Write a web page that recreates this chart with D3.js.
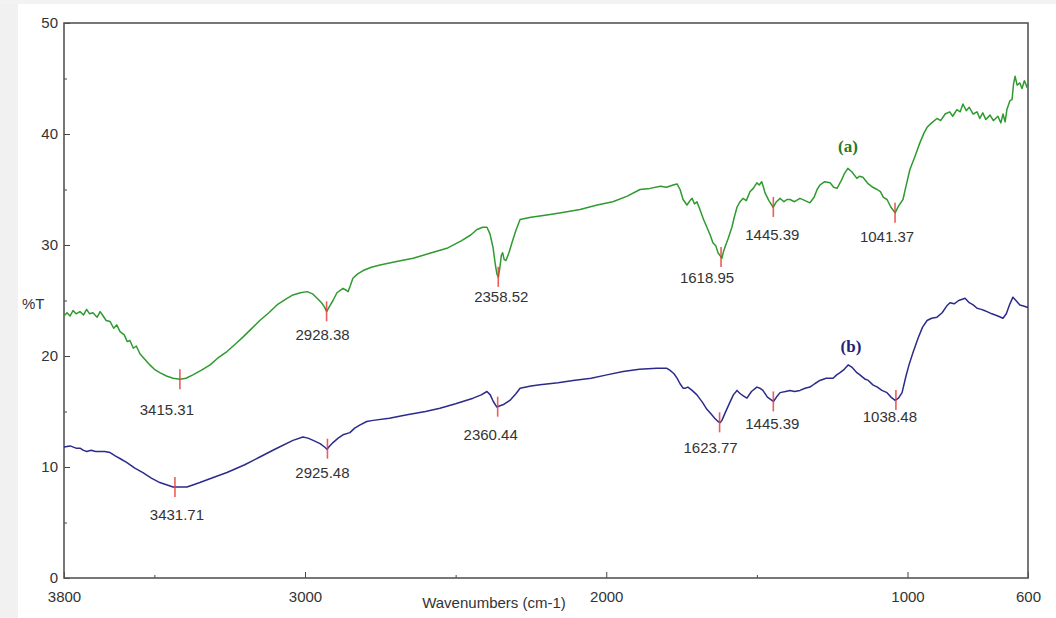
<!DOCTYPE html>
<head>
<meta charset="utf-8">
<title>FTIR spectra</title>
<style>
body {
  margin: 0;
  background: #fff;
  font-family: "Liberation Sans", Arial, sans-serif;
}
.axis text {
  font-family: "Liberation Sans", Arial, sans-serif;
  font-size: 15px;
  fill: #333;
}
.axis line {
  stroke: #444;
}
.peak {
  font-family: "Liberation Sans", Arial, sans-serif;
  font-size: 15px;
  fill: #333;
  text-anchor: middle;
}
</style>
<script src="https://cdnjs.cloudflare.com/ajax/libs/d3/7.8.5/d3.min.js"></script>
</head>

<body>

<script>
// spectrum (a) - wavenumber / %T
var waveA = [3800,3790,3780,3770,3760,3747,3735,3725,3715,3704,3690,3680,3670,3660,3647,3635,3625,3614,3600,3590,3581,3570,3560,3548,3535,3515,3500,3482,3460,3438,3415,3395,3372,3345,3315,3290,3259,3230,3206,3180,3150,3120,3093,3065,3040,3015,2993,2975,2960,2945,2935,2928,2920,2907,2894,2874,2862,2857,2850,2841,2825,2807,2780,2751,2700,2641,2580,2529,2480,2450,2429,2410,2396,2386,2376,2368,2363,2358,2353,2348,2344,2339,2333,2323,2313,2300,2286,2250,2197,2150,2087,2030,1978,1930,1888,1855,1820,1800,1778,1765,1755,1745,1732,1722,1715,1707,1699,1689,1677,1666,1655,1646,1636,1629,1621,1616,1611,1606,1595,1583,1575,1566,1556,1546,1535,1523,1512,1500,1492,1484,1478,1473,1460,1446,1435,1423,1410,1400,1390,1375,1357,1340,1324,1310,1300,1291,1275,1257,1245,1234,1220,1210,1198,1185,1168,1160,1148,1130,1115,1101,1090,1080,1068,1055,1041,1030,1015,1005,992,975,959,945,935,920,902,890,875,860,850,836,825,816,805,795,782,769,760,750,740,726,715,700,690,683,676,670,660,653,648,643,636,627,620,612,603,600];
var transA = [23.6,23.9,23.6,24.1,23.8,24.0,23.7,24.2,23.8,23.9,23.5,24.0,23.6,23.2,23.1,22.5,22.8,22.2,21.9,21.3,21.4,20.7,20.9,20.2,19.8,19.2,18.8,18.5,18.2,18.0,17.9,18.0,18.3,18.7,19.2,19.8,20.4,21.1,21.7,22.4,23.2,23.9,24.6,25.1,25.5,25.7,25.8,25.6,25.2,24.8,24.4,24.0,24.4,25.0,25.7,26.1,25.9,25.8,26.3,27.0,27.4,27.7,28.0,28.2,28.5,28.8,29.3,29.7,30.4,30.9,31.4,31.6,31.6,31.0,29.8,28.2,27.4,27.1,28.0,29.1,29.3,28.7,28.6,29.3,30.2,31.3,32.3,32.5,32.7,32.9,33.2,33.6,33.9,34.4,35.0,35.1,35.3,35.2,35.4,35.5,35.0,34.1,33.6,34.0,34.2,33.7,33.9,33.2,32.3,31.6,30.9,30.2,29.9,29.3,29.0,28.8,29.4,29.8,30.6,31.6,32.5,33.4,33.9,34.2,34.0,34.8,35.1,35.6,35.4,35.7,35.2,34.7,34.0,33.4,33.9,34.2,33.9,34.1,34.1,33.9,34.2,34.0,33.8,34.3,35.0,35.4,35.7,35.6,35.2,35.1,35.8,36.4,36.9,36.6,36.0,36.2,36.1,35.5,35.2,35.0,34.8,34.3,34.1,33.4,32.9,33.5,34.1,35.3,36.8,38.0,39.2,40.1,40.6,41.0,41.4,41.2,41.8,42.0,41.6,42.2,42.0,42.7,42.1,42.4,41.8,42.0,41.4,41.9,41.3,41.7,41.2,41.6,41.0,41.8,41.1,42.2,43.0,43.1,44.5,45.2,44.4,44.6,44.1,44.8,44.2,44.5];

// spectrum (b)
var waveB = [3800,3780,3760,3747,3735,3724,3710,3695,3681,3665,3647,3630,3610,3591,3565,3538,3510,3482,3460,3438,3415,3392,3370,3349,3300,3259,3200,3150,3100,3040,3007,2990,2973,2950,2935,2927,2918,2907,2890,2874,2851,2835,2817,2795,2774,2720,2661,2600,2552,2500,2442,2415,2396,2385,2375,2363,2355,2343,2320,2300,2286,2250,2220,2160,2110,2050,1998,1944,1890,1832,1800,1788,1775,1765,1755,1745,1737,1729,1715,1699,1680,1666,1656,1640,1629,1622,1616,1605,1590,1578,1566,1555,1545,1533,1518,1500,1490,1480,1465,1450,1445,1435,1423,1405,1390,1375,1357,1340,1324,1308,1291,1270,1247,1235,1224,1210,1197,1185,1168,1158,1140,1130,1115,1100,1085,1068,1055,1041,1030,1018,1005,995,982,965,950,935,920,902,885,870,859,845,830,809,795,782,769,755,745,736,720,700,683,672,660,650,640,627,615,603,600];
var transB = [11.8,11.9,11.7,11.7,11.5,11.4,11.5,11.4,11.4,11.4,11.3,11.0,10.7,10.4,9.9,9.5,9.0,8.6,8.4,8.2,8.2,8.2,8.4,8.6,9.1,9.5,10.2,10.9,11.6,12.4,12.7,12.6,12.4,12.1,11.8,11.6,11.9,12.2,12.6,12.9,13.1,13.5,13.8,14.1,14.2,14.4,14.7,15.0,15.3,15.7,16.2,16.5,16.8,16.5,15.9,15.4,15.5,15.6,16.0,16.6,17.1,17.3,17.4,17.6,17.8,18.0,18.3,18.6,18.8,18.9,18.9,18.7,18.4,18.0,17.5,17.1,17.1,17.2,16.9,16.5,15.8,15.2,14.9,14.4,14.1,14.0,14.2,14.9,15.8,16.5,16.9,16.6,16.4,16.2,16.8,17.2,17.1,16.9,16.3,16.0,15.9,16.3,16.7,16.8,16.9,16.8,16.9,17.1,17.2,17.5,17.8,18.0,18.0,18.3,18.5,18.8,19.2,19.0,18.5,18.3,17.9,17.8,17.4,17.2,16.9,16.7,16.3,16.0,16.2,16.7,18.2,19.2,20.3,21.6,22.6,23.2,23.4,23.5,23.9,24.5,24.8,24.7,25.0,25.2,24.8,24.6,24.3,24.2,24.1,24.0,23.8,23.6,23.4,23.8,24.7,25.3,25.0,24.6,24.5,24.4,24.4];

// marked peaks
var peaksA = [3415.31, 2928.38, 2358.52, 1618.95, 1445.39, 1041.37];
var peaksB = [3431.71, 2925.48, 2360.44, 1623.77, 1445.39, 1038.48];

// axis ticks
var xTicks = [3800, 3000, 2000, 1000, 600];
var xMinor = [3500, 2500, 1500];
var yTicks = [0, 10, 20, 30, 40, 50];
var yMinor = [5, 15, 25, 35, 45];

// label nudges (layout only) [dx, dy below the curve]
var offA = [[-13, 30], [-4, 23], [3, 20], [-14, 21], [-1, 28], [-8, 24]];
var offB = [[2, 28], [-5, 24], [-7, 28], [-9, 25], [-1, 22], [-6, 17]];

var width = 1056
    height = 618
    margin = { top: 23, right: 28, bottom: 40, left: 64 }
    w = width - margin.left - margin.right
    h = height - margin.top - margin.bottom
;

var xScale = d3.scaleLinear().domain([3800, 600]).range([0, w])
    yScale = d3.scaleLinear().domain([0, 50]).range([h, 0])
;

var svg = d3.select("body")
            .append("svg")
            .attr("width", width)
            .attr("height", height)
            ;

// faint grey border of the scanned figure
svg.append("rect").attr("x", 0).attr("y", 0).attr("width", 18).attr("height", height).attr("fill", "#f1f1f1");
svg.append("rect").attr("x", 0).attr("y", 0).attr("width", width).attr("height", 4).attr("fill", "#f3f3f3");

var g = svg.append("g")
           .attr("transform", "translate(" + margin.left + "," + margin.top + ")")
           ;

// axes (ticks point inwards)
var xAxis = d3.axisBottom(xScale).tickValues(xTicks).tickSize(-6).tickPadding(13).tickFormat(d3.format("d"))
    xAxisMinor = d3.axisBottom(xScale).tickValues(xMinor).tickSize(-3).tickFormat("")
    yAxis = d3.axisLeft(yScale).tickValues(yTicks).tickSize(-6).tickPadding(6).tickFormat(d3.format("d"))
    yAxisMinor = d3.axisLeft(yScale).tickValues(yMinor).tickSize(-3).tickFormat("")
;

g.append("g").attr("class", "axis").attr("transform", "translate(0," + h + ")").call(xAxis)
  .call(function(s) { s.select(".domain").remove(); });
g.append("g").attr("class", "axis").attr("transform", "translate(0," + h + ")").call(xAxisMinor)
  .call(function(s) { s.select(".domain").remove(); });
g.append("g").attr("class", "axis").call(yAxis)
  .call(function(s) { s.select(".domain").remove(); });
g.append("g").attr("class", "axis").call(yAxisMinor)
  .call(function(s) { s.select(".domain").remove(); });

// frame
g.append("rect")
  .attr("width", w)
  .attr("height", h)
  .attr("fill", "none")
  .attr("stroke", "#555")
  .attr("stroke-width", 1.6)
  ;

// axis titles
svg.append("text")
  .attr("x", 494).attr("y", 608)
  .attr("text-anchor", "middle")
  .attr("font-size", "15px").attr("fill", "#333")
  .text("Wavenumbers (cm-1)");

svg.append("text")
  .attr("x", 22).attr("y", 309)
  .attr("font-size", "15px").attr("fill", "#333")
  .text("%T");

var line = d3.line()
             .x(function(d) { return xScale(d[0]); })
             .y(function(d) { return yScale(d[1]); })
             ;

var seriesA = d3.zip(waveA, transA)
    seriesB = d3.zip(waveB, transB)
;

g.append("path").datum(seriesA)
  .attr("d", line).attr("fill", "none")
  .attr("stroke", "#2f9a2f").attr("stroke-width", 1.5).attr("stroke-linejoin", "round");

g.append("path").datum(seriesB)
  .attr("d", line).attr("fill", "none")
  .attr("stroke", "#2b2b8c").attr("stroke-width", 1.5).attr("stroke-linejoin", "round");

// value of a spectrum at a wavenumber (data is descending)
function valueAt(wave, trans, x) {
  for (var i = 0; i < wave.length - 1; i++) {
    if (x <= wave[i] && x >= wave[i + 1]) {
      var t = (wave[i] - x) / (wave[i] - wave[i + 1]);
      return trans[i] + t * (trans[i + 1] - trans[i]);
    }
  }
  return trans[trans.length - 1];
}

function drawPeaks(peaks, wave, trans, off) {
  peaks.forEach(function(p, i) {
    var px = xScale(p)
        py = yScale(valueAt(wave, trans, p))
    ;
    g.append("line")
      .attr("x1", px).attr("x2", px)
      .attr("y1", py - 10).attr("y2", py + 10)
      .attr("stroke", "#e8423f").attr("stroke-width", 1.6).attr("opacity", 0.85);
    g.append("text")
      .attr("class", "peak")
      .attr("x", px + off[i][0])
      .attr("y", py + off[i][1])
      .attr("dy", "0.36em")
      .text(d3.format(".2f")(p));
  });
}

drawPeaks(peaksA, waveA, transA, offA);
drawPeaks(peaksB, waveB, transB, offB);

// series labels
svg.append("text")
  .attr("x", 848).attr("y", 152)
  .attr("text-anchor", "middle")
  .attr("font-family", "'Liberation Serif', 'Times New Roman', serif")
  .attr("font-weight", "bold").attr("font-size", "17px")
  .attr("fill", "#267a26")
  .text("(a)");

svg.append("text")
  .attr("x", 851).attr("y", 352)
  .attr("text-anchor", "middle")
  .attr("font-family", "'Liberation Serif', 'Times New Roman', serif")
  .attr("font-weight", "bold").attr("font-size", "17px")
  .attr("fill", "#23237a")
  .text("(b)");

</script>

</body>
